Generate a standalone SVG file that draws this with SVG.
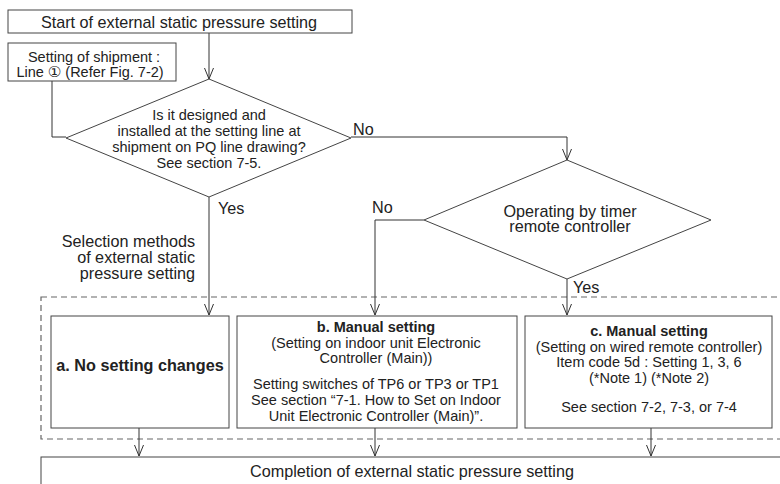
<svg xmlns="http://www.w3.org/2000/svg" width="780" height="484" viewBox="0 0 780 484">
<style>
text{font-family:"Liberation Sans","DejaVu Sans",Arial,sans-serif;font-size:14.5px;fill:#222}
.L{font-size:16.2px}
.c{text-anchor:middle}
.r{text-anchor:end}
.b{font-weight:bold}
.box{fill:#fff;stroke:#444;stroke-width:1}
.ln{fill:none;stroke:#333;stroke-width:1}
.dash{fill:none;stroke:#666;stroke-width:1.2;stroke-dasharray:6 4}
</style>
<defs>
<marker id="ah" viewBox="-12 -6 13 12" refX="0" refY="0" markerWidth="13" markerHeight="12" markerUnits="userSpaceOnUse" orient="auto">
<path d="M-11,-4.5 L0,0 L-11,4.5" fill="none" stroke="#333" stroke-width="1"/>
</marker>
</defs>
<rect width="780" height="484" fill="#fff"/>
<rect class="dash" x="41" y="297" width="760" height="142"/>
<g id="connectors">
<path class="ln" d="M209,33 V79" marker-end="url(#ah)"/>
<path class="ln" d="M52,81 V137 H66"/>
<path class="ln" d="M351,137 H567 V160" marker-end="url(#ah)"/>
<path class="ln" d="M209,197 V315" marker-end="url(#ah)"/>
<path class="ln" d="M424,220 H375 V315" marker-end="url(#ah)"/>
<path class="ln" d="M567,279 V315" marker-end="url(#ah)"/>
<path class="ln" d="M139,428 V456" marker-end="url(#ah)"/>
<path class="ln" d="M375,428 V456" marker-end="url(#ah)"/>
<path class="ln" d="M651,428 V456" marker-end="url(#ah)"/>
<text class="L" x="353" y="135">No</text>
<text class="L" x="372" y="213">No</text>
<text class="L" x="218" y="214">Yes</text>
<text class="L" x="573" y="293">Yes</text>
</g>
<g id="start">
<rect class="box" x="8" y="10" width="344" height="23"/>
<text class="c L" x="179" y="28">Start of external static pressure setting</text>
</g>
<g id="shipment">
<rect class="box" x="8" y="43" width="168" height="38"/>
<text class="c" x="94" y="62">Setting of shipment :</text>
<text class="c" x="90" y="77">Line <tspan style="font-size:15px">①</tspan><tspan dx="4">(Refer Fig. 7-2)</tspan></text>
</g>
<g id="decision1">
<path class="box" d="M209,79 L351,138 L209,197 L66,138 Z"/>
<text class="c" x="209" y="120">Is it designed and</text>
<text class="c" x="209" y="136">installed at the setting line at</text>
<text class="c" x="209" y="152">shipment on PQ line drawing?</text>
<text class="c" x="209" y="168">See section 7-5.</text>
</g>
<g id="decision2">
<path class="box" d="M567,160 L711,220 L567,279 L424,220 Z"/>
<text class="c L" x="570" y="217">Operating by timer</text>
<text class="c L" x="570" y="232">remote controller</text>
</g>
<g id="selection-label">
<text class="r L" x="195" y="247">Selection methods</text>
<text class="r L" x="195" y="263">of external static</text>
<text class="r L" x="195" y="279">pressure setting</text>
</g>
<g id="box-a">
<rect class="box" x="51" y="316" width="178" height="112"/>
<text class="c b L" x="140" y="371">a. No setting changes</text>
</g>
<g id="box-b">
<rect class="box" x="237" y="316" width="280" height="112"/>
<text class="c b" x="376" y="332">b. Manual setting</text>
<text class="c" x="376" y="348">(Setting on indoor unit Electronic</text>
<text class="c" x="376" y="363">Controller (Main))</text>
<text class="c" x="376" y="389">Setting switches of TP6 or TP3 or TP1</text>
<text class="c" x="376" y="405">See section “7-1. How to Set on Indoor</text>
<text class="c" x="376" y="421">Unit Electronic Controller (Main)”.</text>
</g>
<g id="box-c">
<rect class="box" x="525" y="316" width="247" height="112"/>
<text class="c b" x="649" y="336">c. Manual setting</text>
<text class="c" x="649" y="352">(Setting on wired remote controller)</text>
<text class="c" x="649" y="367">Item code 5d : Setting 1, 3, 6</text>
<text class="c" x="649" y="383">(*Note 1) (*Note 2)</text>
<text class="c" x="649" y="412">See section 7-2, 7-3, or 7-4</text>
</g>
<g id="completion">
<rect class="box" x="41" y="457" width="760" height="40"/>
<text class="c L" x="412" y="477">Completion of external static pressure setting</text>
</g>
</svg>
